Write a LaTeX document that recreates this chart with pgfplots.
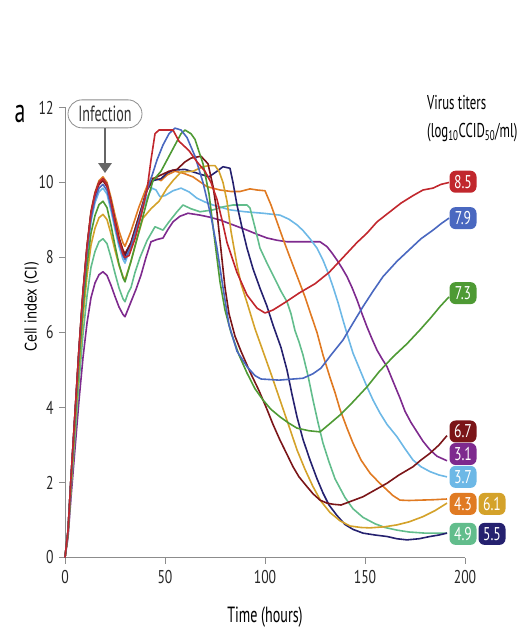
\documentclass[border=0pt]{standalone}
\usepackage{pgfplots}
\pgfplotsset{compat=1.18}
\usetikzlibrary{arrows.meta}
\usepackage{fontspec}
\setmainfont{PT Sans}[FakeStretch=0.74]
\newfontfamily\cfont{PT Sans}[FakeStretch=0.64]
\newfontfamily\ylabfont{DejaVu Sans}[FakeStretch=0.8]
\definecolor{cA}{HTML}{C1272D}
\definecolor{cB}{HTML}{4A68C0}
\definecolor{cC}{HTML}{4E9A34}
\definecolor{cD}{HTML}{7B1518}
\definecolor{cE}{HTML}{D4A22A}
\definecolor{cF}{HTML}{25216F}
\definecolor{cG}{HTML}{62BD8C}
\definecolor{cH}{HTML}{E07A22}
\definecolor{cI}{HTML}{6DB8E6}
\definecolor{cJ}{HTML}{7E2A8E}
\definecolor{axgray}{HTML}{8C8C8C}
\tikzset{lab/.style={rounded corners=6pt, minimum width=27pt, minimum height=22pt, inner sep=0.5pt, text=white, font=\fontsize{18.5}{18.5}\selectfont}}
\begin{document}
\begin{tikzpicture}
\useasboundingbox (0,0) rectangle (521pt,630pt);
\begin{axis}[
  at={(65pt,72.5pt)}, anchor=south west,
  scale only axis, width=400pt, height=450pt,
  xmin=0, xmax=200, ymin=0, ymax=12,
  axis lines*=left,
  axis line style={draw=axgray, line width=0.8pt},
  xtick={0,50,100,150,200}, ytick={0,2,4,6,8,10,12},
  tick style={axgray, line width=0.8pt},
  tick align=outside, major tick length=6pt,
  ticklabel style={font=\fontsize{18.5}{18.5}\selectfont, text=black!85},
  xticklabel style={yshift=-3pt},
  yticklabel style={xshift=-2pt},
  /pgf/number format/assume math mode=true,
  clip=false,
  every axis plot/.append style={line width=1.6pt, line join=round, mark=none},
]
% 3.1 purple
\addplot[cJ] coordinates {(0,0)(1.5,0.53)(3,1.6)(5,2.9)(7,4.19)(9,5.33)(11,6.25)(13,6.93)(15,7.32)(17,7.54)(19,7.62)(21,7.52)(23,7.26)(25,6.96)(27,6.68)(29,6.48)(30,6.42)(33,6.82)(35.5,7.15)(38,7.53)(40.5,8.0)(43,8.42)(46,8.48)(49,8.52)(51.5,8.75)(54,8.95)(57.5,9.1)(61.5,9.18)(67.5,9.13)(72,9.08)(77.5,9.0)(84,8.87)(91,8.73)(96,8.62)(101,8.52)(106,8.46)(111,8.42)(116,8.42)(121,8.42)(127.5,8.42)(131,8.29)(133.5,8.12)(136,7.93)(138.5,7.72)(141,7.49)(143.5,7.2)(146,6.87)(148.5,6.5)(151,6.15)(153.5,5.83)(156,5.53)(158.5,5.3)(161,5.09)(164,4.7)(167.5,4.25)(170,3.9)(173,3.6)(176,3.35)(179,3.1)(182.5,2.87)(186,2.7)(191,2.58)};
% 3.7 light blue
\addplot[cI] coordinates {(0,0)(1.5,0.69)(3,2.07)(5,3.74)(7,5.42)(9,6.9)(11,8.08)(13,8.96)(15,9.46)(17,9.75)(19,9.85)(21,9.69)(23,9.25)(25,8.75)(27,8.29)(29,7.95)(30,7.85)(33,8.3)(37,9.0)(41,9.6)(43.5,9.85)(45.5,9.8)(47.5,9.62)(50,9.65)(54,9.78)(58,9.85)(62,9.75)(66,9.58)(70,9.48)(74,9.4)(82.5,9.27)(90,9.22)(99,9.18)(107.5,9.13)(112,9.02)(116,8.87)(119,8.72)(122.5,8.5)(126,8.25)(129,7.93)(131.5,7.6)(134,7.22)(136.5,6.8)(139,6.33)(141.5,5.88)(144,5.45)(147.5,5.0)(151,4.55)(154,4.2)(157.5,3.85)(161,3.55)(166,3.22)(170,2.9)(174,2.6)(178,2.42)(182.5,2.29)(187,2.2)(191,2.15)};
% 4.3 orange
\addplot[cH] coordinates {(0,0)(1.5,0.71)(3,2.13)(5,3.86)(7,5.58)(9,7.11)(11,8.32)(13,9.24)(15,9.74)(17,10.05)(19,10.15)(21,10.0)(23,9.6)(25,9.13)(27,8.71)(29,8.39)(30,8.3)(33,8.7)(37,9.35)(41,9.9)(43,10.12)(46,10.1)(48,10.05)(51,10.2)(55,10.3)(59,10.25)(64,10.15)(68,10.0)(71,9.89)(77.5,9.8)(83,9.76)(87.5,9.76)(92.5,9.83)(96,9.8)(100,9.78)(103,9.4)(106,8.95)(109,8.5)(112.5,8.0)(115,7.65)(117.5,7.3)(120,6.95)(122.5,6.55)(126,6.0)(129,5.4)(132.5,4.8)(135,4.4)(137.5,3.95)(141,3.45)(144,3.05)(148,2.6)(152.5,2.25)(157,2.0)(161,1.8)(164,1.65)(167.5,1.53)(172,1.52)(177.5,1.53)(184,1.54)(191,1.56)};
% 4.9 light green
\addplot[cG] coordinates {(0,0)(1.5,0.6)(3,1.79)(5,3.23)(7,4.68)(9,5.95)(11,6.97)(13,7.74)(15,8.16)(17,8.42)(19,8.5)(21,8.37)(23,8.0)(25,7.58)(27,7.19)(29,6.9)(30,6.82)(31.5,7.05)(33,7.2)(35,7.6)(37.5,8.0)(41,8.45)(45,8.82)(49,8.73)(52,8.95)(56,9.22)(59,9.4)(63,9.3)(67.5,9.22)(74,9.27)(79,9.35)(84,9.4)(91,9.4)(92.5,9.32)(95,8.8)(97.5,8.25)(101,7.85)(104,7.53)(108,7.1)(111,6.82)(113,6.5)(115,6.05)(117,5.75)(119,5.4)(121.5,4.85)(124,4.2)(126.5,3.6)(129,3.05)(132,2.55)(135,2.1)(140,1.6)(144,1.3)(149,1.07)(155,0.9)(160,0.8)(166,0.73)(172,0.68)(180,0.65)(191,0.65)};
% 5.5 navy
\addplot[cF] coordinates {(0,0)(1.5,0.71)(3,2.12)(5,3.84)(7,5.56)(9,7.07)(11,8.28)(13,9.19)(15,9.70)(17,10.0)(19,10.1)(21,9.94)(23,9.49)(25,8.97)(27,8.5)(29,8.15)(30,8.05)(33,8.4)(37,9.1)(41,9.8)(44,10.05)(48,10.1)(51,10.25)(54,10.33)(60,10.35)(66,10.25)(72,10.15)(76,10.3)(79,10.42)(82.5,10.38)(84,10.0)(86,9.4)(88.5,8.8)(91,8.25)(94,7.7)(97.5,7.18)(101,6.7)(104,6.2)(108,5.6)(111,5.0)(113.5,4.35)(116,3.75)(119,3.15)(122.5,2.6)(126,2.1)(129,1.72)(132,1.4)(136,1.12)(140,0.88)(144,0.75)(149,0.65)(155,0.6)(161,0.56)(166,0.5)(171,0.47)(177,0.5)(182.5,0.56)(187,0.6)(191,0.65)};
% 6.1 gold
\addplot[cE] coordinates {(0,0)(1.5,0.64)(3,1.92)(5,3.48)(7,5.03)(9,6.41)(11,7.50)(13,8.33)(15,8.78)(17,9.06)(19,9.15)(21,9.01)(23,8.63)(25,8.19)(27,7.79)(29,7.49)(30,7.4)(33,7.9)(36,8.5)(39,9.05)(43,9.3)(47,9.5)(51,9.85)(54,10.05)(58,10.28)(64,10.3)(69,10.42)(72,10.45)(75,10.45)(77,10.3)(79,10.0)(81,9.5)(83,8.7)(86,7.8)(88,7.3)(91,6.8)(95,6.1)(99,5.5)(103,4.9)(107.5,4.2)(112,3.5)(116,2.87)(120,2.35)(124,1.89)(128,1.5)(132.5,1.2)(137.5,0.98)(142.5,0.84)(148,0.8)(152.5,0.79)(160,0.82)(166,0.87)(172,0.95)(179,1.09)(185,1.25)(191,1.45)};
% 6.7 dark red
\addplot[cD] coordinates {(0,0)(1.5,0.70)(3,2.11)(5,3.82)(7,5.53)(9,7.04)(11,8.24)(13,9.15)(15,9.65)(17,9.95)(19,10.05)(21,9.89)(23,9.47)(25,8.98)(27,8.53)(29,8.2)(30,8.1)(33,8.4)(37,9.1)(41,9.8)(44,10.1)(48,10.2)(52,10.3)(56,10.35)(60,10.55)(63,10.65)(68,10.7)(71.5,10.5)(74,9.9)(76,9.2)(78,8.2)(80,7.2)(82,6.5)(85,5.9)(88,5.5)(92.5,4.95)(97,4.45)(101,3.95)(104,3.55)(107.5,3.13)(111,2.75)(114,2.42)(117,2.15)(121,1.89)(124,1.7)(127.5,1.53)(131,1.45)(134,1.42)(138,1.4)(143,1.5)(149,1.62)(155,1.8)(161,1.98)(167,2.2)(174,2.42)(178,2.6)(182.5,2.78)(187,3.0)(191,3.25)};
% 7.3 green
\addplot[cC] coordinates {(0,0)(1.5,0.67)(3,2.0)(5,3.61)(7,5.23)(9,6.65)(11,7.79)(13,8.65)(15,9.12)(17,9.41)(19,9.5)(21,9.33)(23,8.86)(25,8.32)(27,7.82)(29,7.46)(30,7.35)(33,7.9)(37,8.7)(41,9.5)(44,10.05)(48,10.3)(51,10.6)(55,11.0)(58,11.3)(60,11.4)(63,11.3)(65,11.15)(69,10.5)(72,9.7)(75,8.4)(77.5,7.35)(80,6.6)(83,6.0)(87,5.4)(91,4.92)(95,4.5)(99,4.2)(103,3.95)(107.5,3.75)(112,3.58)(116,3.45)(122,3.38)(127.5,3.35)(132,3.55)(137.5,3.8)(144,4.15)(151,4.55)(157,4.95)(164,5.35)(171,5.7)(177.5,6.07)(183,6.4)(187.5,6.69)(192,6.95)};
% 7.9 blue
\addplot[cB] coordinates {(0,0)(1.5,0.70)(3,2.09)(5,3.78)(7,5.47)(9,6.97)(11,8.16)(13,9.05)(15,9.55)(17,9.85)(19,9.95)(21,9.79)(23,9.35)(25,8.85)(27,8.39)(29,8.05)(30,7.95)(33,8.3)(37,9.0)(41,9.8)(43,10.1)(46,10.6)(49,11.0)(52,11.3)(55,11.45)(58,11.4)(61,11.2)(65,10.7)(69,10.0)(73,9.1)(76,8.25)(79,7.2)(82,6.2)(86,5.5)(91,5.09)(95,4.85)(98,4.76)(107,4.73)(119,4.78)(124,4.9)(128,5.05)(133,5.4)(139,5.8)(144,6.25)(149,6.69)(154,7.1)(159,7.49)(166,7.9)(172,8.2)(178,8.5)(184,8.73)(188,8.9)(192,9.05)};
% 8.5 red
\addplot[cA] coordinates {(0,0)(1.5,0.71)(3,2.12)(5,3.84)(7,5.56)(9,7.07)(11,8.28)(13,9.19)(15,9.70)(17,10.0)(19,10.1)(21,9.93)(23,9.47)(25,8.94)(27,8.46)(29,8.1)(30,8.0)(32,8.05)(35,8.5)(38,9.1)(41,9.8)(43,10.6)(45,11.3)(47,11.4)(54,11.4)(57,11.1)(62,10.85)(66,10.55)(70,10.3)(73,10.0)(76,9.55)(78.5,9.0)(81,8.4)(86,7.6)(91,7.0)(96,6.65)(100,6.52)(104,6.6)(110,6.8)(117,7.05)(125,7.3)(132,7.6)(139,8.0)(146,8.4)(151,8.65)(156,8.95)(162,9.2)(168,9.45)(174,9.65)(179,9.8)(184,9.85)(188,9.95)(192,10.0)};
% value labels
\node[lab, fill=cA] at (axis cs:199,10.02) {8.5};
\node[lab, fill=cB] at (axis cs:199,9.05) {7.9};
\node[lab, fill=cC] at (axis cs:199,7.05) {7.3};
\node[lab, fill=cD] at (axis cs:199,3.36) {6.7};
\node[lab, fill=cJ] at (axis cs:199,2.76) {3.1};
\node[lab, fill=cI] at (axis cs:199,2.15) {3.7};
\node[lab, fill=cH] at (axis cs:199,1.43) {4.3};
\node[lab, fill=cE] at (axis cs:213.5,1.43) {6.1};
\node[lab, fill=cG] at (axis cs:199,0.63) {4.9};
\node[lab, fill=cF] at (axis cs:213.5,0.63) {5.5};
% annotations
\node[draw=axgray, line width=0.8pt, rounded corners=14pt, minimum width=74pt, minimum height=28pt, inner sep=1pt, font=\cfont\fontsize{22}{22}\selectfont, text=black!80] at (axis cs:20,11.83) {Infection};
\draw[draw=black!60, line width=2.6pt, -{Triangle[length=10pt,width=13pt]}] (axis cs:20,11.45) -- (axis cs:20,10.25);
\node[anchor=west, font=\cfont\fontsize{20}{20}\selectfont, inner sep=0pt] at (axis cs:181,12.12) {Virus titers};
\node[anchor=west, font=\cfont\fontsize{20}{20}\selectfont, inner sep=0pt] at (axis cs:181,11.33) {(log\textsubscript{10}CCID\textsubscript{50}/ml)};
\node[font=\cfont\fontsize{34}{34}\selectfont, inner sep=0pt] at (axis cs:-22.5,11.83) {a};
\node[font=\cfont\fontsize{22}{22}\selectfont, inner sep=0pt] at (axis cs:100,-1.59) {Time (hours)};
\node[rotate=90, font=\ylabfont\fontsize{16}{16}\selectfont, inner sep=0pt] at (axis cs:-16.7,6.69) {Cell index (CI)};
\end{axis}
\end{tikzpicture}
\end{document}
